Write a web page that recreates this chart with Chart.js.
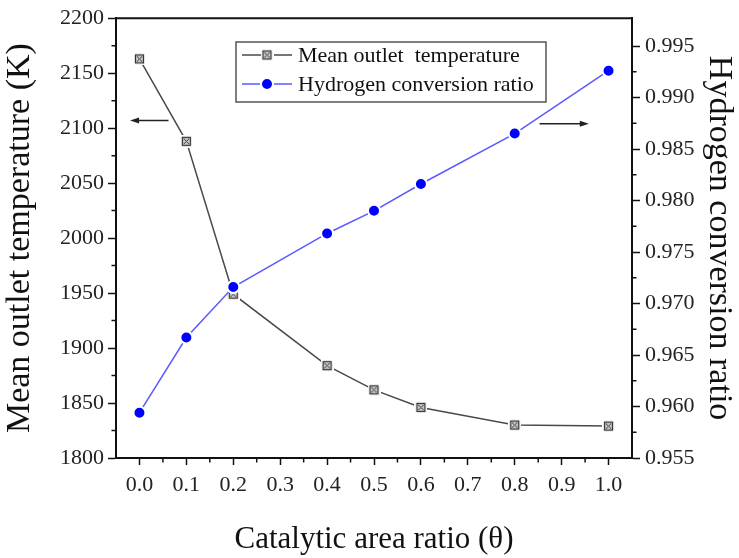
<!DOCTYPE html>
<html>
<head>
<meta charset="utf-8">
<title>Catalytic area ratio</title>
<script src="https://cdn.jsdelivr.net/npm/chart.js@4.4.0/dist/chart.umd.min.js"></script>
<style>
  html, body { margin: 0; padding: 0; background: #fff; }
  canvas { display: block; }
</style>
</head>
<body>
<canvas id="chart" width="739" height="558"></canvas>
<script>
// catalytic area ratio and the two responses
const theta = [0.0, 0.1, 0.2, 0.4, 0.5, 0.6, 0.8, 1.0];
const outletTemp = [2163, 2088, 1949, 1884, 1862, 1846, 1830, 1829];
const conversionRatio = [0.9594, 0.9667, 0.9716, 0.9768, 0.9790, 0.9816, 0.9865, 0.9926];

// major tick values for each axis
const thetaTicks = [0.0, 0.1, 0.2, 0.3, 0.4, 0.5, 0.6, 0.7, 0.8, 0.9, 1.0];
const tempTicks = [1800, 1850, 1900, 1950, 2000, 2050, 2100, 2150, 2200];
const ratioTicks = [0.955, 0.960, 0.965, 0.970, 0.975, 0.980, 0.985, 0.990, 0.995];

const SERIF = "'Liberation Serif', 'Times New Roman', serif";

// crossed-box marker with a white margin so the line stops short of it
function boxMarker() {
  const c = document.createElement('canvas');
  c.width = 13; c.height = 13;
  const g = c.getContext('2d');
  g.fillStyle = '#fff';
  g.fillRect(0, 0, 13, 13);
  g.fillStyle = '#d0d0d0';
  g.fillRect(2.5, 2.5, 8, 8);
  g.strokeStyle = '#333';
  g.lineWidth = 1.3;
  g.strokeRect(2.5, 2.5, 8, 8);
  g.lineWidth = 1;
  g.beginPath();
  g.moveTo(4, 4); g.lineTo(9, 9);
  g.moveTo(9, 4); g.lineTo(4, 9);
  g.stroke();
  return c;
}
const tempMarker = boxMarker();

const fixTicks = (values) => (scale) => {
  scale.ticks = values.map(v => ({ value: v }));
};
const midpoints = (values) => values.slice(1).map((v, i) => (v + values[i]) / 2);

// top frame line, minor ticks and the two direction arrows
const framePlugin = {
  id: 'framePlugin',
  afterDraw(chart, args, opts) {
    const { ctx, chartArea: a, scales } = chart;
    ctx.save();
    ctx.strokeStyle = '#111';
    ctx.lineWidth = 2;
    ctx.beginPath();
    ctx.moveTo(a.left - 1, a.top);
    ctx.lineTo(a.right + 1, a.top);
    ctx.stroke();

    ctx.lineWidth = 1.5;
    ctx.beginPath();
    midpoints(thetaTicks).forEach(v => {
      const px = scales.x.getPixelForValue(v);
      ctx.moveTo(px, a.bottom);
      ctx.lineTo(px, a.bottom + 4.5);
    });
    midpoints(tempTicks).forEach(v => {
      const py = scales.y.getPixelForValue(v);
      ctx.moveTo(a.left, py);
      ctx.lineTo(a.left - 4.5, py);
    });
    midpoints(ratioTicks).forEach(v => {
      const py = scales.y1.getPixelForValue(v);
      ctx.moveTo(a.right, py);
      ctx.lineTo(a.right + 4.5, py);
    });
    ctx.stroke();

    // arrows pointing at the axis each curve belongs to
    ctx.strokeStyle = '#222';
    ctx.fillStyle = '#222';
    ctx.lineWidth = 1.5;
    opts.arrows.forEach(ar => {
      const ys = scales[ar.axis];
      const y = ys.getPixelForValue(ar.y);
      const x0 = scales.x.getPixelForValue(ar.from);
      const x1 = scales.x.getPixelForValue(ar.to);
      const dir = Math.sign(x1 - x0);
      ctx.beginPath();
      ctx.moveTo(x0, y);
      ctx.lineTo(x1 - dir * 6, y);
      ctx.stroke();
      ctx.beginPath();
      ctx.moveTo(x1, y);
      ctx.lineTo(x1 - dir * 9, y - 3);
      ctx.lineTo(x1 - dir * 9, y + 3);
      ctx.closePath();
      ctx.fill();
    });
    ctx.restore();
  }
};

// boxed legend inside the plot
const boxLegend = {
  id: 'boxLegend',
  afterDraw(chart, args, opts) {
    const { ctx } = chart;
    const b = opts.box;
    ctx.save();
    ctx.strokeStyle = '#555';
    ctx.lineWidth = 1.5;
    ctx.strokeRect(b.x, b.y, b.w, b.h);
    ctx.font = `22px ${SERIF}`;
    ctx.textBaseline = 'middle';
    ctx.fillStyle = '#111';
    chart.data.datasets.forEach((ds, i) => {
      const y = b.y + opts.rowTop + i * opts.rowGap;
      const lx0 = b.x + 6, lx1 = b.x + 56, mx = (lx0 + lx1) / 2;
      ctx.strokeStyle = ds.borderColor;
      ctx.lineWidth = ds.borderWidth;
      ctx.beginPath();
      ctx.moveTo(lx0, y);
      ctx.lineTo(lx1, y);
      ctx.stroke();
      if (ds.pointStyle instanceof HTMLCanvasElement) {
        ctx.drawImage(ds.pointStyle, mx - ds.pointStyle.width / 2, y - ds.pointStyle.height / 2);
      } else {
        ctx.beginPath();
        ctx.arc(mx, y, ds.pointRadius, 0, Math.PI * 2);
        ctx.fillStyle = ds.pointBackgroundColor;
        ctx.strokeStyle = ds.pointBorderColor;
        ctx.lineWidth = ds.pointBorderWidth;
        ctx.fill();
        ctx.stroke();
      }
      ctx.fillStyle = '#111';
      ctx.fillText(ds.label, b.x + 62, y + 1);
    });
    ctx.restore();
  }
};

const tickFont = { family: SERIF, size: 22 };

new Chart(document.getElementById('chart'), {
  type: 'line',
  data: {
    datasets: [
      {
        label: 'Mean outlet  temperature',
        data: theta.map((t, i) => ({ x: t, y: outletTemp[i] })),
        yAxisID: 'y',
        borderColor: '#4a4a4a',
        borderWidth: 1.5,
        pointStyle: tempMarker,
        pointRadius: 6,
        order: 1
      },
      {
        label: 'Hydrogen conversion ratio',
        data: theta.map((t, i) => ({ x: t, y: conversionRatio[i] })),
        yAxisID: 'y1',
        borderColor: '#5a5aff',
        borderWidth: 1.5,
        pointStyle: 'circle',
        pointRadius: 6,
        pointBackgroundColor: '#0000ff',
        pointBorderColor: '#ffffff',
        pointBorderWidth: 2,
        order: 0
      }
    ]
  },
  options: {
    responsive: false,
    animation: false,
    layout: { padding: { top: 16, left: 0, right: 0, bottom: 0 } },
    plugins: {
      legend: { display: false },
      tooltip: { enabled: false },
      boxLegend: {
        box: { x: 236, y: 42, w: 310, h: 60 },
        rowTop: 13,
        rowGap: 29
      },
      framePlugin: {
        arrows: [
          { axis: 'y', y: 2107, from: 0.062, to: -0.02 },
          { axis: 'y1', y: 0.98746, from: 0.853, to: 0.958 }
        ]
      }
    },
    scales: {
      x: {
        type: 'linear',
        min: -0.05,
        max: 1.05,
        afterBuildTicks: fixTicks(thetaTicks),
        afterFit: (s) => { s.height = 100; },
        grid: { drawOnChartArea: false, tickLength: 7, tickWidth: 1.5, tickColor: '#111' },
        border: { color: '#111', width: 2 },
        ticks: {
          font: tickFont,
          color: '#222',
          padding: 7,
          maxRotation: 0,
          callback: (v) => v.toFixed(1)
        },
        title: {
          display: true,
          text: 'Catalytic area ratio (\u03b8)',
          font: { family: SERIF, size: 31 },
          color: '#111',
          padding: { top: 0, bottom: 0 }
        }
      },
      y: {
        type: 'linear',
        position: 'left',
        min: 1800,
        max: 2200,
        afterBuildTicks: fixTicks(tempTicks),
        afterFit: (s) => { s.width = 116; },
        grid: { drawOnChartArea: false, tickLength: 8, tickWidth: 1.5, tickColor: '#111' },
        border: { color: '#111', width: 2 },
        ticks: { font: tickFont, color: '#222', padding: 4, callback: (v) => String(v) },
        title: {
          display: true,
          text: 'Mean outlet temperature (K)',
          font: { family: SERIF, size: 34 },
          color: '#111',
          padding: { top: 0, bottom: 0 }
        }
      },
      y1: {
        type: 'linear',
        position: 'right',
        min: 0.955,
        max: 0.9977,
        afterBuildTicks: fixTicks(ratioTicks),
        afterFit: (s) => { s.width = 107; },
        grid: { drawOnChartArea: false, tickLength: 8, tickWidth: 1.5, tickColor: '#111' },
        border: { color: '#111', width: 2 },
        ticks: { font: tickFont, color: '#222', padding: 5, callback: (v) => v.toFixed(3) },
        title: {
          display: true,
          text: 'Hydrogen conversion ratio',
          font: { family: SERIF, size: 34 },
          color: '#111',
          padding: { top: 0, bottom: 0 }
        }
      }
    }
  },
  plugins: [framePlugin, boxLegend]
});
</script>
</body>
</html>
